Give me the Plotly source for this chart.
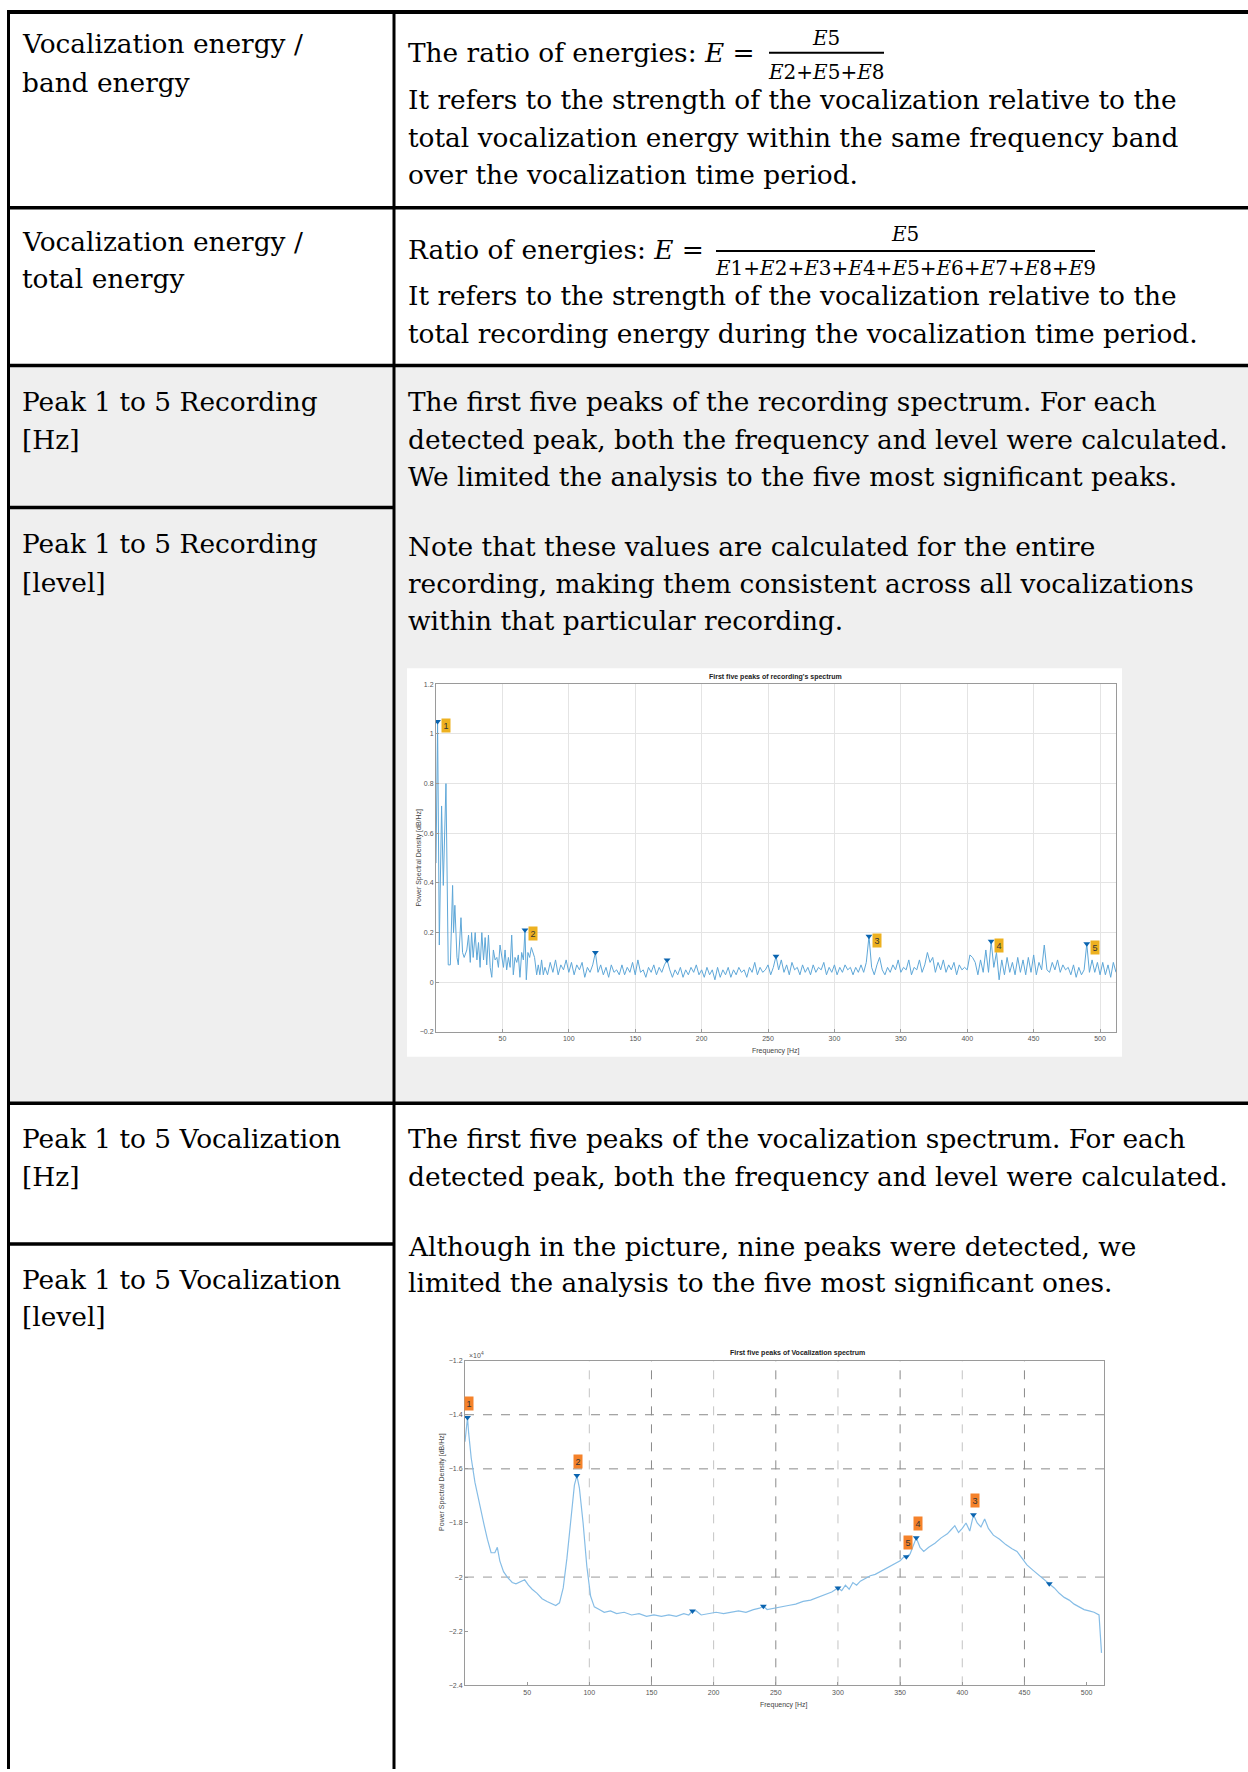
import plotly.graph_objects as go

W, H = 1248, 1772

# ---------------- data: recording spectrum (chart 1) ----------------
rec_freq = [0, 0.6, 1.2, 2.5, 4.2, 5.5, 7.5, 9.2, 10.8, 12.5, 13.2, 14.2, 15.8, 16.8, 18.8, 20.0,
            21.2, 23.2, 24.5, 25.8, 26.8, 28.0, 29.5, 30.8, 32.0, 33.2, 34.5, 35.8, 37.0, 38.2,
            39.5, 40.8, 42.0, 43.2, 44.5, 45.8, 47.0, 48.2, 49.5, 50.8, 52.0, 53.2, 54.5, 55.8,
            57.0, 58.2, 59.5, 60.8, 62.0, 63.2, 64.5, 65.8, 67.0, 68.0, 69.2, 70.5, 71.8, 73.0,
            74.2, 75.8, 77.0, 78.2, 79.5, 80.8,
            82, 84, 86, 88, 90, 92, 94, 96, 98, 100,
            102, 104, 106, 108, 110, 112, 114, 116, 118, 120,
            122, 124, 126, 128, 130, 132, 134, 136, 138, 140,
            142, 144, 146, 148, 150, 152, 154, 156, 158, 160,
            162, 164, 166, 168, 170, 172, 174, 176, 178, 180,
            182, 184, 186, 188, 190, 192, 194, 196, 198, 200,
            202, 204, 206, 208, 210, 212, 214, 216, 218, 220,
            222, 224, 226, 228, 230, 232, 234, 236, 238, 240,
            242, 244, 246, 248, 250, 252, 254, 256, 258, 260,
            262, 264, 266, 268, 270, 272, 274, 276, 278, 280,
            282, 284, 286, 288, 290, 292, 294, 296, 298, 300,
            302, 304, 306, 308, 310, 312, 314, 316, 318, 320,
            322, 324, 326, 328, 330, 332, 334, 336, 338, 340,
            342, 344, 346, 348, 350, 352, 354, 356, 358, 360,
            362, 364, 366, 368, 370, 372, 374, 376, 378, 380,
            382, 384, 386, 388, 390, 392, 394, 396, 398, 400,
            402, 404, 406, 408, 410, 412, 414, 416, 418, 420,
            422, 424, 426, 428, 430, 432, 434, 436, 438, 440,
            442, 444, 446, 448, 450, 452, 454, 456, 458, 460,
            462, 464, 466, 468, 470, 472, 474, 476, 478, 480,
            482, 484, 486, 488, 490, 492, 494, 496, 498, 500,
            502, 504, 506, 508, 510, 512]
rec_psd = [0.48, 0.75, 1.05, 0.15, 0.71, 0.39, 0.80, 0.07, 0.07, 0.39, 0.20, 0.31, 0.10, 0.07, 0.26, 0.12,
           0.10, 0.13, 0.19, 0.08, 0.20, 0.10, 0.20, 0.09, 0.16, 0.06, 0.20, 0.09, 0.18, 0.07,
           0.19, 0.06, 0.02, 0.13, 0.09, 0.10, 0.06, 0.15, 0.11, 0.06, 0.13, 0.05, 0.10, 0.06,
           0.19, 0.03, 0.10, 0.08, 0.11, 0.02, 0.12, 0.09, 0.21, 0.01, 0.12, 0.10, 0.14, 0.12,
           0.10, 0.03, 0.07, 0.03, 0.09, 0.03,
           0.06, 0.03, 0.08, 0.04, 0.09, 0.03, 0.07, 0.05, 0.09, 0.04,
           0.08, 0.03, 0.07, 0.05, 0.08, 0.02, 0.06, 0.04, 0.07, 0.12,
           0.04, 0.07, 0.03, 0.06, 0.02, 0.07, 0.04, 0.05, 0.03, 0.07,
           0.03, 0.06, 0.04, 0.08, 0.03, 0.09, 0.04, 0.05, 0.02, 0.06,
           0.04, 0.07, 0.03, 0.06, 0.04, 0.07, 0.09, 0.05, 0.02, 0.05,
           0.03, 0.06, 0.02, 0.05, 0.03, 0.06, 0.04, 0.07, 0.03, 0.05,
           0.02, 0.06, 0.03, 0.05, 0.01, 0.06, 0.02, 0.05, 0.03, 0.06,
           0.02, 0.05, 0.03, 0.06, 0.04, 0.05, 0.02, 0.06, 0.04, 0.08,
           0.03, 0.06, 0.04, 0.05, 0.07, 0.03, 0.06, 0.105, 0.05, 0.09,
           0.04, 0.07, 0.03, 0.08, 0.05, 0.06, 0.03, 0.07, 0.04, 0.06,
           0.03, 0.07, 0.04, 0.06, 0.05, 0.08, 0.03, 0.06, 0.04, 0.07,
           0.03, 0.06, 0.04, 0.07, 0.05, 0.06, 0.03, 0.06, 0.04, 0.07,
           0.04, 0.08, 0.185, 0.06, 0.03, 0.07, 0.10, 0.05, 0.03, 0.06,
           0.04, 0.07, 0.05, 0.09, 0.04, 0.06, 0.05, 0.09, 0.03, 0.06,
           0.05, 0.09, 0.04, 0.07, 0.12, 0.08, 0.10, 0.04, 0.08, 0.05,
           0.09, 0.04, 0.07, 0.05, 0.08, 0.03, 0.07, 0.05, 0.06, 0.05,
           0.11, 0.10, 0.08, 0.03, 0.09, 0.04, 0.13, 0.04, 0.165, 0.06,
           0.12, 0.01, 0.09, 0.03, 0.10, 0.04, 0.08, 0.03, 0.10, 0.04,
           0.09, 0.03, 0.10, 0.04, 0.11, 0.03, 0.08, 0.05, 0.15, 0.05,
           0.04, 0.08, 0.05, 0.09, 0.04, 0.07, 0.05, 0.06, 0.03, 0.07,
           0.02, 0.06, 0.03, 0.05, 0.155, 0.04, 0.09, 0.04, 0.08, 0.03,
           0.08, 0.03, 0.07, 0.02, 0.08, 0.04]

rec_peak_freq = [1.2, 67, 120, 174, 256, 326, 418, 490]
rec_peak_val = [1.05, 0.21, 0.12, 0.09, 0.105, 0.185, 0.165, 0.155]
rec_rank_freq = [1.2, 67, 326, 418, 490]
rec_rank_val = [1.05, 0.21, 0.185, 0.165, 0.155]
rec_rank_lbl = ["1", "2", "3", "4", "5"]

# ---------------- data: vocalization spectrum (chart 2) ----------------
voc_freq = [0, 1, 2, 3, 5, 8, 11, 15, 18, 21, 24, 26, 28, 31, 34, 38, 41, 45, 48, 51, 54, 58, 62,
            66, 70, 73, 76, 79, 82, 85, 88, 90, 92, 95, 98, 101, 104, 108, 112, 117, 122, 128,
            134, 140, 146, 152, 158, 164, 170, 176, 180, 183, 186, 190, 196, 202, 208, 214, 220,
            226, 232, 237, 240, 243, 248, 254, 260, 266, 272, 278, 284, 290, 295, 300, 303, 306,
            309, 312, 315, 318, 322, 326, 330, 334, 338, 342, 346, 350, 353, 355, 358, 361, 363,
            366, 369, 373, 378, 383, 388, 391, 394, 397, 400, 403, 406, 409, 412, 415, 418, 421,
            425, 430, 435, 440, 444, 448, 452, 457, 462, 466, 470, 474, 478, 482, 486, 490, 494,
            498, 502, 506, 510, 512]
voc_psd = [-1.50, -1.45, -1.41, -1.47, -1.56, -1.65, -1.72, -1.80, -1.86, -1.91, -1.91, -1.89,
           -1.94, -1.98, -2.00, -2.02, -2.025, -2.015, -2.01, -2.03, -2.045, -2.06, -2.08, -2.09,
           -2.10, -2.105, -2.095, -2.04, -1.93, -1.78, -1.66, -1.625, -1.67, -1.80, -1.96, -2.07,
           -2.11, -2.12, -2.13, -2.125, -2.135, -2.13, -2.14, -2.135, -2.145, -2.14, -2.145,
           -2.14, -2.145, -2.135, -2.14, -2.125, -2.125, -2.14, -2.135, -2.13, -2.135, -2.13,
           -2.125, -2.13, -2.12, -2.115, -2.108, -2.12, -2.115, -2.11, -2.105, -2.10, -2.09,
           -2.085, -2.075, -2.065, -2.055, -2.04, -2.05, -2.03, -2.045, -2.02, -2.03, -2.015,
           -2.005, -1.995, -1.99, -1.98, -1.97, -1.96, -1.95, -1.94, -1.925, -1.925, -1.915,
           -1.88, -1.855, -1.89, -1.905, -1.89, -1.875, -1.855, -1.84, -1.825, -1.81, -1.835,
           -1.82, -1.80, -1.83, -1.77, -1.80, -1.815, -1.785, -1.82, -1.845, -1.86, -1.88,
           -1.895, -1.905, -1.93, -1.955, -1.975, -1.995, -2.01, -2.025, -2.04, -2.06, -2.075,
           -2.085, -2.10, -2.11, -2.12, -2.125, -2.13, -2.14, -2.28]

voc_peak_freq = [2, 90, 183, 240, 300, 355, 363, 409, 470]
voc_peak_val = [-1.41, -1.625, -2.125, -2.108, -2.04, -1.925, -1.855, -1.77, -2.025]
voc_rank_freq = [2, 90, 409, 363, 355]
voc_rank_val = [-1.41, -1.625, -1.77, -1.855, -1.925]
voc_rank_lbl = ["1", "2", "3", "4", "5"]

x_ticks = [50, 100, 150, 200, 250, 300, 350, 400, 450, 500]
rec_y_ticks = [-0.2, 0, 0.2, 0.4, 0.6, 0.8, 1, 1.2]
voc_y_ticks = [-2.4, -2.2, -2, -1.8, -1.6, -1.4, -1.2]

# ---------------- table text ----------------
left_lines = [
    ("Vocalization energy /", 40), ("band energy", 79),
    ("Vocalization energy /", 238), ("total energy", 276),
    ("Peak 1 to 5 Recording", 399.5), ("[Hz]", 437),
    ("Peak 1 to 5 Recording", 542), ("[level]", 580.5),
    ("Peak 1 to 5 Vocalization", 1139.5), ("[Hz]", 1177),
    ("Peak 1 to 5 Vocalization", 1281), ("[level]", 1318),
]
right_lines = [
    ("The ratio of energies: <i>E</i> =", 49),
    ("It refers to the strength of the vocalization relative to the", 96),
    ("total vocalization energy within the same frequency band", 134),
    ("over the vocalization time period.", 171),
    ("Ratio of energies: <i>E</i> =", 246),
    ("It refers to the strength of the vocalization relative to the", 293),
    ("total recording energy during the vocalization time period.", 331),
    ("The first five peaks of the recording spectrum. For each", 399.5),
    ("detected peak, both the frequency and level were calculated.", 437),
    ("We limited the analysis to the five most significant peaks.", 474.5),
    ("Note that these values are calculated for the entire", 544.5),
    ("recording, making them consistent across all vocalizations", 581.5),
    ("within that particular recording.", 619),
    ("The first five peaks of the vocalization spectrum. For each", 1139.5),
    ("detected peak, both the frequency and level were calculated.", 1177),
    ("Although in the picture, nine peaks were detected, we", 1247),
    ("limited the analysis to the five most significant ones.", 1284),
]
fractions = [
    # numerator, denominator, center x, numerator y, bar y, denominator y, bar x0, bar x1
    ("<i>E</i>5", "<i>E</i>2+<i>E</i>5+<i>E</i>8", 826, 34, 49, 68, 769, 884),
    ("<i>E</i>5", "<i>E</i>1+<i>E</i>2+<i>E</i>3+<i>E</i>4+<i>E</i>5+<i>E</i>6+<i>E</i>7+<i>E</i>8+<i>E</i>9",
     905, 231, 248, 265, 716, 1095),
]


def px(x):
    return x / W


def py(y):
    return 1 - y / H


TEXT_FONT = dict(family="DejaVu Serif", size=26.4, color="black")
TICK_FONT = dict(family="Liberation Sans", size=7, color="#555555")

fig = go.Figure()

# chart 1 traces
fig.add_trace(go.Scatter(x=rec_freq, y=rec_psd, mode="lines",
                         line=dict(color="#5ea7d8", width=1), xaxis="x", yaxis="y",
                         hoverinfo="skip", showlegend=False))
fig.add_trace(go.Scatter(x=rec_peak_freq, y=rec_peak_val, mode="markers",
                         marker=dict(symbol="triangle-down", size=6, color="#0a64b0"),
                         xaxis="x", yaxis="y", showlegend=False))
# chart 2 traces
fig.add_trace(go.Scatter(x=voc_freq, y=voc_psd, mode="lines",
                         line=dict(color="#86bde6", width=1.2), xaxis="x2", yaxis="y2",
                         hoverinfo="skip", showlegend=False))
fig.add_trace(go.Scatter(x=voc_peak_freq, y=voc_peak_val, mode="markers",
                         marker=dict(symbol="triangle-down", size=6, color="#0a64b0"),
                         xaxis="x2", yaxis="y2", showlegend=False))

shapes = []
# grey background of row 3
shapes.append(dict(type="rect", xref="paper", yref="paper", x0=px(8.5), x1=px(1248),
                   y0=py(1103.5), y1=py(364), fillcolor="#efefef", line=dict(width=0), layer="below"))
# white background of chart 1 picture
shapes.append(dict(type="rect", xref="paper", yref="paper", x0=px(407), x1=px(1122),
                   y0=py(1057), y1=py(667), fillcolor="white", line=dict(width=0), layer="below"))


def hline(y, x0, x1, w):
    shapes.append(dict(type="line", xref="paper", yref="paper", x0=px(x0), x1=px(x1),
                       y0=py(y), y1=py(y), line=dict(color="black", width=w)))


def vline(x, y0, y1, w):
    shapes.append(dict(type="line", xref="paper", yref="paper", x0=px(x), x1=px(x),
                       y0=py(y0), y1=py(y1), line=dict(color="black", width=w)))


hline(8, 7, 1248, 4)
vline(8.5, 6, 1772, 3)
vline(394, 6, 1772, 3)
hline(204.5, 7, 1248, 3.5)
hline(363, 7, 1248, 3.5)
hline(505.5, 7, 394, 3.5)
hline(1103.5, 7, 1248, 3.5)
hline(1245, 7, 394, 3.5)

# fraction bars
for num, den, cx, ny, by, dy, bx0, bx1 in fractions:
    shapes.append(dict(type="line", xref="paper", yref="paper", x0=px(bx0), x1=px(bx1),
                       y0=py(by), y1=py(by), line=dict(color="black", width=2)))

# chart 2 dashed grid
for gy, col in [(-1.4, "#8a8a8a"), (-1.6, "#8a8a8a"), (-2.0, "#9a9a9a")]:
    shapes.append(dict(type="line", xref="x2", yref="y2", x0=0, x1=514, y0=gy, y1=gy,
                       line=dict(color=col, width=1, dash="dash"), layer="below"))
for gx in x_ticks[1:-1]:
    col = "#8a8a8a" if gx in (150, 250, 350, 450) else "#c4c4c4"
    shapes.append(dict(type="line", xref="x2", yref="y2", x0=gx, x1=gx, y0=-2.4, y1=-1.2,
                       line=dict(color=col, width=1, dash="dash"), layer="below"))

annotations = []
for t, y in left_lines:
    annotations.append(dict(text=t, x=px(20), y=py(y), xref="paper", yref="paper",
                            xanchor="left", yanchor="middle", showarrow=False, font=TEXT_FONT))
for t, y in right_lines:
    annotations.append(dict(text=t, x=px(406), y=py(y), xref="paper", yref="paper",
                            xanchor="left", yanchor="middle", showarrow=False, font=TEXT_FONT))
for num, den, cx, ny, by, dy, bx0, bx1 in fractions:
    for t, yy in [(num, ny), (den, dy)]:
        annotations.append(dict(text=t, x=px(cx), y=py(yy), xref="paper", yref="paper",
                                xanchor="center", yanchor="middle", showarrow=False,
                                font=dict(family="DejaVu Serif", size=20, color="black")))

# chart titles / labels
annotations += [
    dict(text="<b>First five peaks of recording's spectrum</b>", x=px(775), y=py(676),
         xref="paper", yref="paper", showarrow=False, yanchor="middle",
         font=dict(family="Liberation Sans", size=7, color="#222")),
    dict(text="Frequency [Hz]", x=px(776), y=py(1051), xref="paper", yref="paper", showarrow=False,
         yanchor="middle", font=dict(family="Liberation Sans", size=7, color="#444")),
    dict(text="Power Spectral Density [dB/Hz]", x=px(413), y=py(857), xref="paper", yref="paper",
         showarrow=False, textangle=-90, font=dict(family="Liberation Sans", size=7, color="#444")),
    dict(text="<b>First five peaks of Vocalization spectrum</b>", x=px(798), y=py(1354),
         xref="paper", yref="paper", showarrow=False, yanchor="middle",
         font=dict(family="Liberation Sans", size=7, color="#222")),
    dict(text="Frequency [Hz]", x=px(784), y=py(1708), xref="paper", yref="paper", showarrow=False,
         yanchor="middle", font=dict(family="Liberation Sans", size=7, color="#444")),
    dict(text="Power Spectral Density [dB/Hz]", x=px(442), y=py(1535), xref="paper", yref="paper",
         showarrow=False, textangle=-90, font=dict(family="Liberation Sans", size=7, color="#444")),
    dict(text="×10<sup>4</sup>", x=px(467), y=py(1356), xref="paper", yref="paper", showarrow=False,
         xanchor="left", yanchor="middle", font=dict(family="Liberation Sans", size=7, color="#555")),
]
# peak rank labels
for fx, fv, lb in zip(rec_rank_freq, rec_rank_val, rec_rank_lbl):
    annotations.append(dict(text=lb, x=fx + 6, y=fv - 0.015, xref="x", yref="y", showarrow=False,
                            bgcolor="#EDB120", borderpad=1.5,
                            font=dict(family="Liberation Sans", size=9, color="#333")))
for fx, fv, lb in zip(voc_rank_freq, voc_rank_val, voc_rank_lbl):
    annotations.append(dict(text=lb, x=fx + 1, y=fv, yshift=14, xref="x2", yref="y2", showarrow=False,
                            bgcolor="#F5822A", borderpad=1.5,
                            font=dict(family="Liberation Sans", size=9, color="#333")))

axis_common = dict(showline=True, mirror=True, linecolor="#9a9a9a", linewidth=1, ticks="inside",
                   ticklen=3, tickcolor="#9a9a9a", tickfont=TICK_FONT, zeroline=False)

fig.update_layout(
    width=W, height=H, margin=dict(l=0, r=0, t=0, b=0),
    paper_bgcolor="white", plot_bgcolor="white", showlegend=False,
    shapes=shapes, annotations=annotations,
    xaxis=dict(domain=[px(436), px(1116)], range=[0, 512], tickvals=x_ticks,
               showgrid=True, gridcolor="#e4e4e4", anchor="y", **axis_common),
    yaxis=dict(domain=[py(1032), py(683)], range=[-0.2, 1.2], tickvals=rec_y_ticks,
               showgrid=True, gridcolor="#e4e4e4", anchor="x", **axis_common),
    xaxis2=dict(domain=[px(465), px(1104)], range=[0, 514], tickvals=x_ticks,
                showgrid=False, anchor="y2", **axis_common),
    yaxis2=dict(domain=[py(1688), py(1362)], range=[-2.4, -1.2], tickvals=voc_y_ticks,
                showgrid=False, anchor="x2", **axis_common),
)

fig.write_html("out.html", config={"displayModeBar": False},
               post_script="document.body.style.margin='0px';document.body.style.padding='0px';")
